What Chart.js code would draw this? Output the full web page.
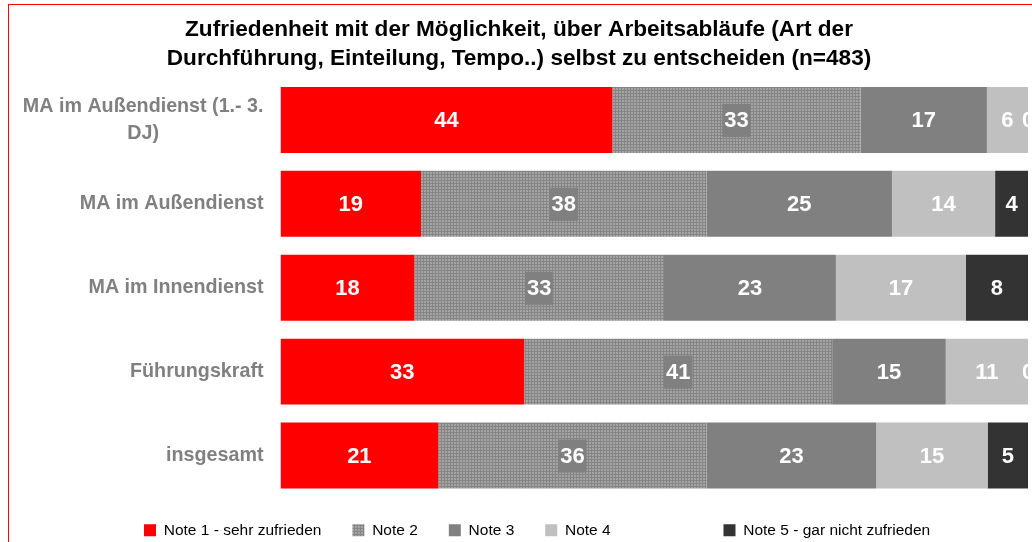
<!DOCTYPE html>
<html>
<head>
<meta charset="utf-8">
<script src="https://cdn.jsdelivr.net/npm/chart.js@4.4.1/dist/chart.umd.min.js"></script>
<style>
  html, body { margin: 0; padding: 0; width: 1032px; height: 542px; overflow: hidden; background: #fff; }
  #frame { position: absolute; left: 8px; top: 4px; width: 1100px; height: 600px; border: 1px solid #ff0000; box-sizing: border-box; }
  #chart { position: absolute; left: 0; top: 0; }
</style>
</head>
<body>
<div id="frame"></div>
<canvas id="chart" width="1043" height="560"></canvas>
<script>
// Data (shares in %, labels shown rounded)
const categories = [['MA im Außendienst (1.- 3.', 'DJ)'], 'MA im Außendienst', 'MA im Innendienst', 'Führungskraft', 'insgesamt'];
const seriesNames = ['Note 1 - sehr zufrieden', 'Note 2', 'Note 3', 'Note 4', 'Note 5 - gar nicht zufrieden'];
const note1 = [44.4, 18.8, 17.9, 32.6, 21.1];
const note2 = [33.2, 38.2, 33.4, 41.2, 35.9];
const note3 = [16.9, 24.8, 23.0, 15.2, 22.7];
const note4 = [5.5, 13.8, 17.4, 11.0, 14.9];
const note5 = [0, 4.4, 8.3, 0, 5.4];

const FONT = '"Liberation Sans", Arial, sans-serif';

// Dotted grey fill used for "Note 2"
function makeDotPattern() {
  const p = document.createElement('canvas');
  p.width = 3;
  p.height = 3;
  const g = p.getContext('2d');
  g.fillStyle = '#a4a4a4';
  g.fillRect(0, 0, 3, 3);
  g.fillStyle = '#858585';
  g.fillRect(0, 0, 3, 1);
  g.fillRect(0, 0, 1, 3);
  return g.createPattern(p, 'repeat');
}
const dots = makeDotPattern();

// Category labels: block right aligned, lines centred among themselves
const categoryLabels = {
  id: 'categoryLabels',
  afterDraw(chart) {
    const ctx = chart.ctx;
    const yScale = chart.scales.y;
    const right = chart.chartArea.left - 17;
    ctx.save();
    ctx.font = 'bold 19.7px ' + FONT;
    ctx.fillStyle = '#808080';
    ctx.textAlign = 'center';
    ctx.textBaseline = 'middle';
    categories.forEach((cat, i) => {
      const lines = Array.isArray(cat) ? cat : [cat];
      const maxW = Math.max(...lines.map(l => ctx.measureText(l).width));
      const cy = yScale.getPixelForValue(i);
      lines.forEach((line, k) => {
        ctx.fillText(line, right - maxW / 2, cy + (k - (lines.length - 1) / 2) * 27);
      });
    });
    ctx.restore();
  }
};

// Value labels in the middle of each segment (cut off at the plot's right edge)
const valueLabels = {
  id: 'valueLabels',
  afterDatasetsDraw(chart) {
    const ctx = chart.ctx;
    const area = chart.chartArea;
    ctx.save();
    ctx.beginPath();
    ctx.rect(0, 0, area.right, chart.height);
    ctx.clip();
    ctx.font = 'bold 22px ' + FONT;
    ctx.textAlign = 'center';
    ctx.textBaseline = 'middle';
    chart.data.datasets.forEach((ds, i) => {
      chart.getDatasetMeta(i).data.forEach((bar, j) => {
        const x = (bar.x + bar.base) / 2;
        const txt = String(Math.round(ds.data[j]));
        if (ds.labelBg) {
          const w = ctx.measureText(txt).width + 4;
          ctx.fillStyle = ds.labelBg;
          ctx.fillRect(x - w / 2, bar.y - 16, w, 33);
        }
        ctx.fillStyle = '#ffffff';
        ctx.fillText(txt, x, bar.y + 1);
      });
    });
    ctx.restore();
  }
};

// Move the legend to where it sits in the original
const placeLegend = {
  id: 'placeLegend',
  afterLayout(chart) {
    const lg = chart.legend;
    lg.top -= 6; lg.bottom -= 6;
    lg.left += 103; lg.right += 103;
  }
};

new Chart(document.getElementById('chart'), {
  type: 'bar',
  data: {
    labels: categories,
    datasets: [
      { label: seriesNames[0], data: note1, backgroundColor: '#ff0000' },
      { label: seriesNames[1], data: note2, backgroundColor: dots, labelBg: '#808080' },
      { label: seriesNames[2], data: note3, backgroundColor: '#808080' },
      { label: seriesNames[3], data: note4, backgroundColor: '#c0c0c0' },
      { label: seriesNames[4], data: note5, backgroundColor: '#333333' }
    ]
  },
  options: {
    indexAxis: 'y',
    responsive: false,
    animation: false,
    layout: { padding: { left: 10, right: 15, top: 0, bottom: 6 } },
    datasets: {
      bar: { categoryPercentage: 1, barPercentage: 0.786, borderWidth: 0 }
    },
    scales: {
      x: { stacked: true, min: 0, max: 100, display: false },
      y: {
        stacked: true,
        ticks: { display: false },
        grid: { display: false },
        border: { display: false },
        afterFit: (s) => { s.width = 270.5; }
      }
    },
    plugins: {
      title: {
        display: true,
        text: ['Zufriedenheit mit der Möglichkeit, über Arbeitsabläufe (Art der',
               'Durchführung, Einteilung, Tempo..) selbst zu entscheiden (n=483)'],
        color: '#000000',
        font: { family: FONT, size: 22.6, weight: 'bold', lineHeight: 1.283 },
        padding: { top: 15, bottom: 5 }
      },
      legend: {
        position: 'bottom',
        align: 'start',
        labels: {
          color: '#000000',
          font: { family: FONT, size: 15.5 },
          boxWidth: 12,
          boxHeight: 12,
          padding: 31,
          generateLabels(chart) {
            const items = Chart.defaults.plugins.legend.labels.generateLabels(chart);
            // wider gap before the last entry, as in the original legend
            items[3].text += ' '.repeat(19);
            return items;
          }
        }
      },
      tooltip: { enabled: false }
    }
  },
  plugins: [categoryLabels, valueLabels, placeLegend]
});
</script>
</body>
</html>
